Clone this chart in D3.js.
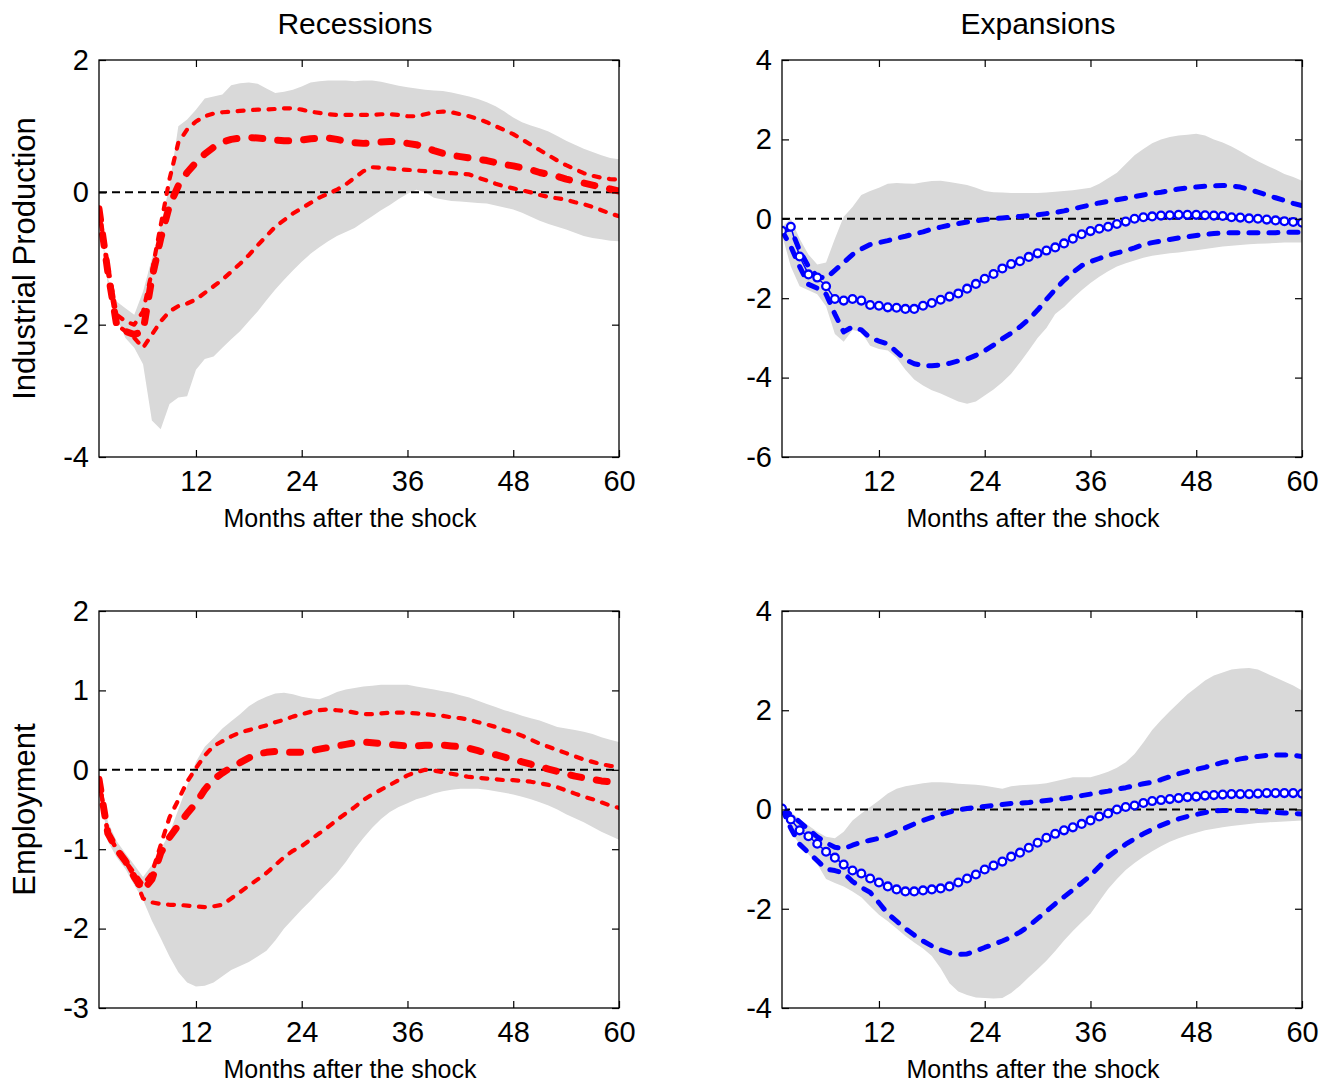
<!DOCTYPE html>
<html>
<head>
<meta charset="utf-8">
<script src="https://cdn.jsdelivr.net/npm/d3@7"></script>
<style>
  html, body { margin: 0; padding: 0; background: #fff; }
  svg text { font-family: "Liberation Sans", Arial, Helvetica, sans-serif; fill: #000; }
</style>
</head>
<body>
<svg id="chart" width="1336" height="1084"></svg>
<script>
// ---------------- DATA ----------------
const months = [1,2,3,4,5,6,7,8,9,10,11,12,13,14,15,16,17,18,19,20,21,22,23,24,25,26,27,28,29,30,
  31,32,33,34,35,36,37,38,39,40,41,42,43,44,45,46,47,48,49,50,51,52,53,54,55,56,57,58,59,60];
const xTicks = [12, 24, 36, 48, 60];
const colTitles = ["Recessions", "Expansions"];
const rowTitles = ["Industrial Production", "Employment"];
const xLabel = "Months after the shock";

const ipRecTicks = [-4, -2, 0, 2];
const ipExpTicks = [-6, -4, -2, 0, 2, 4];
const empRecTicks = [-3, -2, -1, 0, 1, 2];
const empExpTicks = [-4, -2, 0, 2, 4];

// Recessions - Industrial Production
const ipRecMed = [-0.25,-1.2,-2.0,-2.1,-2.15,-2.1,-1.3,-0.7,-0.2,0.1,0.3,0.45,0.58,0.68,0.76,0.8,0.82,0.83,0.82,0.81,
  0.79,0.78,0.78,0.79,0.81,0.82,0.82,0.8,0.77,0.75,0.74,0.75,0.76,0.77,0.76,0.74,0.72,0.68,0.63,0.59,
  0.56,0.54,0.52,0.5,0.48,0.45,0.42,0.4,0.37,0.34,0.3,0.27,0.24,0.2,0.17,0.14,0.11,0.08,0.05,0.02];
const ipRecHi = [-0.25,-1.1,-1.85,-1.95,-2.0,-1.8,-1.2,-0.5,0.2,0.75,0.95,1.07,1.15,1.19,1.21,1.22,1.23,1.24,1.25,1.25,
  1.26,1.27,1.27,1.25,1.22,1.2,1.18,1.17,1.17,1.17,1.17,1.17,1.18,1.18,1.17,1.15,1.15,1.18,1.21,1.22,
  1.21,1.18,1.15,1.11,1.06,1.0,0.94,0.88,0.8,0.72,0.64,0.56,0.48,0.41,0.35,0.29,0.25,0.22,0.2,0.19];
const ipRecLo = [-0.25,-1.2,-2.0,-2.1,-2.2,-2.35,-2.15,-1.95,-1.8,-1.72,-1.68,-1.62,-1.52,-1.42,-1.32,-1.2,-1.08,-0.95,-0.8,-0.66,
  -0.52,-0.42,-0.32,-0.24,-0.16,-0.08,-0.02,0.04,0.12,0.22,0.32,0.38,0.37,0.36,0.35,0.34,0.33,0.32,0.31,0.3,
  0.29,0.28,0.27,0.22,0.18,0.13,0.09,0.06,0.03,0.0,-0.04,-0.07,-0.09,-0.11,-0.15,-0.18,-0.22,-0.27,-0.32,-0.36];
const ipRecBandHi = [-0.2,-1.3,-1.65,-1.75,-1.85,-1.5,-1.0,-0.5,0.1,1.0,1.1,1.25,1.42,1.45,1.48,1.62,1.65,1.66,1.64,1.57,
  1.5,1.52,1.55,1.6,1.66,1.68,1.69,1.69,1.69,1.68,1.69,1.69,1.67,1.64,1.61,1.59,1.57,1.55,1.54,1.53,
  1.51,1.48,1.45,1.41,1.36,1.3,1.22,1.13,1.06,1.01,0.97,0.92,0.85,0.78,0.72,0.66,0.61,0.56,0.52,0.5];
const ipRecBandLo = [-0.3,-1.4,-1.9,-2.2,-2.35,-2.6,-3.45,-3.58,-3.2,-3.1,-3.08,-2.68,-2.52,-2.48,-2.35,-2.22,-2.1,-1.95,-1.8,-1.63,
  -1.47,-1.32,-1.18,-1.05,-0.93,-0.83,-0.74,-0.66,-0.6,-0.54,-0.45,-0.36,-0.27,-0.19,-0.1,-0.02,0.04,0.0,-0.08,-0.11,
  -0.13,-0.14,-0.15,-0.16,-0.17,-0.2,-0.23,-0.26,-0.31,-0.37,-0.43,-0.48,-0.52,-0.56,-0.61,-0.66,-0.69,-0.71,-0.73,-0.74];

// Expansions - Industrial Production
const ipExpMed = [-0.3,-0.2,-0.95,-1.4,-1.48,-1.7,-2.02,-2.06,-2.02,-2.06,-2.17,-2.19,-2.23,-2.24,-2.27,-2.27,-2.19,-2.12,-2.04,-1.96,
  -1.88,-1.76,-1.64,-1.51,-1.39,-1.25,-1.14,-1.07,-0.96,-0.87,-0.8,-0.72,-0.62,-0.5,-0.39,-0.31,-0.25,-0.2,-0.13,-0.07,
  0.0,0.04,0.06,0.08,0.09,0.1,0.1,0.1,0.09,0.08,0.07,0.04,0.03,0.01,0.0,-0.02,-0.04,-0.06,-0.08,-0.1];
const ipExpHi = [-0.3,-0.25,-0.8,-1.2,-1.45,-1.5,-1.3,-1.1,-0.9,-0.76,-0.65,-0.6,-0.55,-0.49,-0.44,-0.38,-0.33,-0.26,-0.21,-0.16,
  -0.12,-0.08,-0.05,-0.02,0.0,0.02,0.04,0.06,0.08,0.1,0.13,0.16,0.2,0.25,0.3,0.35,0.4,0.44,0.48,0.52,
  0.56,0.6,0.64,0.67,0.71,0.75,0.78,0.8,0.82,0.83,0.84,0.83,0.8,0.74,0.67,0.6,0.53,0.46,0.39,0.33];
const ipExpLo = [-0.3,-0.7,-1.2,-1.65,-1.75,-1.9,-2.4,-2.85,-2.72,-2.8,-3.0,-3.08,-3.15,-3.35,-3.55,-3.65,-3.7,-3.7,-3.68,-3.64,
  -3.58,-3.53,-3.44,-3.32,-3.18,-3.02,-2.88,-2.72,-2.53,-2.3,-2.03,-1.78,-1.55,-1.35,-1.18,-1.08,-1.0,-0.92,-0.86,-0.8,
  -0.73,-0.65,-0.6,-0.56,-0.52,-0.48,-0.45,-0.42,-0.39,-0.37,-0.36,-0.35,-0.35,-0.35,-0.35,-0.35,-0.35,-0.34,-0.34,-0.34];
const ipExpBandHi = [-0.2,0.0,-0.5,-0.9,-1.15,-1.1,-0.5,0.05,0.3,0.6,0.7,0.78,0.88,0.9,0.89,0.88,0.92,0.95,0.96,0.93,
  0.89,0.85,0.78,0.7,0.67,0.66,0.65,0.65,0.65,0.65,0.66,0.68,0.7,0.72,0.75,0.78,0.88,1.02,1.16,1.38,
  1.6,1.76,1.9,2.0,2.06,2.1,2.12,2.14,2.1,2.0,1.92,1.82,1.7,1.57,1.45,1.34,1.24,1.13,1.05,0.96];
const ipExpBandLo = [-0.4,-1.2,-1.7,-1.8,-1.9,-2.2,-2.9,-3.1,-2.8,-2.85,-3.2,-3.28,-3.32,-3.5,-3.8,-4.05,-4.2,-4.32,-4.4,-4.5,
  -4.6,-4.66,-4.6,-4.45,-4.3,-4.12,-3.9,-3.62,-3.32,-3.0,-2.75,-2.4,-2.22,-2.0,-1.8,-1.62,-1.46,-1.32,-1.2,-1.12,
  -1.05,-0.98,-0.93,-0.9,-0.87,-0.85,-0.82,-0.79,-0.76,-0.73,-0.7,-0.68,-0.66,-0.64,-0.63,-0.62,-0.61,-0.6,-0.6,-0.6];

// Recessions - Employment
const empRecMed = [-0.12,-0.8,-1.0,-1.15,-1.35,-1.52,-1.38,-1.05,-0.85,-0.7,-0.55,-0.42,-0.25,-0.12,-0.04,0.03,0.09,0.15,0.2,0.22,
  0.23,0.22,0.22,0.22,0.24,0.26,0.28,0.3,0.32,0.34,0.35,0.34,0.33,0.32,0.31,0.3,0.3,0.31,0.31,0.31,
  0.3,0.29,0.27,0.24,0.21,0.19,0.16,0.13,0.1,0.07,0.04,0.01,-0.02,-0.05,-0.08,-0.1,-0.12,-0.14,-0.15,-0.16];
const empRecHi = [-0.12,-0.8,-1.0,-1.15,-1.3,-1.45,-1.3,-0.95,-0.6,-0.38,-0.15,0.02,0.18,0.3,0.36,0.42,0.47,0.5,0.53,0.56,
  0.6,0.63,0.67,0.7,0.73,0.75,0.76,0.75,0.74,0.72,0.7,0.7,0.71,0.72,0.72,0.72,0.71,0.7,0.69,0.68,
  0.66,0.65,0.63,0.6,0.57,0.54,0.5,0.47,0.43,0.38,0.33,0.29,0.25,0.21,0.17,0.13,0.1,0.07,0.05,0.04];
const empRecLo = [-0.12,-0.8,-1.0,-1.15,-1.35,-1.62,-1.67,-1.69,-1.7,-1.7,-1.71,-1.72,-1.73,-1.72,-1.7,-1.62,-1.54,-1.46,-1.38,-1.3,
  -1.2,-1.1,-1.02,-0.96,-0.88,-0.8,-0.72,-0.63,-0.55,-0.47,-0.38,-0.31,-0.25,-0.19,-0.13,-0.07,-0.03,0.0,-0.01,-0.03,
  -0.05,-0.07,-0.09,-0.1,-0.11,-0.12,-0.13,-0.13,-0.14,-0.15,-0.17,-0.19,-0.22,-0.26,-0.3,-0.34,-0.37,-0.41,-0.45,-0.48];
const empRecBandHi = [-0.08,-0.65,-0.9,-1.05,-1.2,-1.35,-1.2,-1.0,-0.8,-0.5,-0.2,0.1,0.29,0.4,0.52,0.61,0.7,0.8,0.87,0.92,
  0.96,0.97,0.95,0.92,0.9,0.89,0.93,0.98,1.01,1.03,1.05,1.06,1.07,1.07,1.07,1.07,1.05,1.03,1.01,0.99,
  0.97,0.94,0.91,0.87,0.83,0.79,0.75,0.72,0.68,0.65,0.62,0.58,0.54,0.52,0.5,0.48,0.45,0.41,0.38,0.35];
const empRecBandLo = [-0.15,-0.9,-1.1,-1.25,-1.45,-1.64,-1.9,-2.12,-2.35,-2.55,-2.68,-2.73,-2.72,-2.68,-2.6,-2.52,-2.47,-2.42,-2.35,-2.28,
  -2.15,-2.0,-1.88,-1.76,-1.65,-1.53,-1.42,-1.3,-1.16,-1.0,-0.86,-0.73,-0.62,-0.53,-0.47,-0.42,-0.37,-0.34,-0.3,-0.27,
  -0.25,-0.24,-0.24,-0.24,-0.25,-0.27,-0.29,-0.31,-0.34,-0.37,-0.41,-0.45,-0.5,-0.56,-0.61,-0.66,-0.72,-0.78,-0.83,-0.88];

// Expansions - Employment
const empExpMed = [0.02,-0.2,-0.42,-0.54,-0.69,-0.85,-0.97,-1.11,-1.23,-1.29,-1.39,-1.47,-1.55,-1.61,-1.65,-1.65,-1.63,-1.61,-1.59,-1.55,
  -1.47,-1.39,-1.31,-1.21,-1.13,-1.05,-0.95,-0.87,-0.77,-0.67,-0.57,-0.49,-0.42,-0.36,-0.29,-0.22,-0.14,-0.08,0.0,0.05,
  0.08,0.13,0.17,0.19,0.21,0.23,0.25,0.26,0.28,0.29,0.3,0.31,0.31,0.31,0.32,0.33,0.33,0.33,0.33,0.32];
const empExpHi = [0.02,-0.1,-0.25,-0.4,-0.55,-0.67,-0.76,-0.79,-0.72,-0.66,-0.62,-0.58,-0.52,-0.45,-0.37,-0.29,-0.22,-0.16,-0.1,-0.05,
  -0.01,0.02,0.04,0.06,0.08,0.1,0.12,0.13,0.14,0.16,0.18,0.2,0.22,0.25,0.28,0.31,0.34,0.37,0.41,0.44,
  0.48,0.52,0.55,0.6,0.66,0.72,0.77,0.81,0.85,0.9,0.95,0.98,1.02,1.05,1.07,1.09,1.1,1.1,1.09,1.07];
const empExpLo = [0.02,-0.38,-0.7,-0.87,-1.03,-1.2,-1.23,-1.28,-1.45,-1.57,-1.67,-1.88,-2.1,-2.25,-2.4,-2.53,-2.65,-2.75,-2.83,-2.89,
  -2.92,-2.91,-2.85,-2.78,-2.72,-2.65,-2.57,-2.47,-2.35,-2.2,-2.05,-1.9,-1.76,-1.62,-1.48,-1.33,-1.15,-0.95,-0.82,-0.7,
  -0.59,-0.49,-0.4,-0.32,-0.25,-0.19,-0.14,-0.1,-0.06,-0.03,-0.02,-0.02,-0.02,-0.03,-0.04,-0.05,-0.06,-0.07,-0.08,-0.09];
const empExpBandHi = [0.08,-0.05,-0.2,-0.32,-0.45,-0.55,-0.58,-0.45,-0.22,-0.08,0.05,0.18,0.32,0.42,0.47,0.5,0.53,0.55,0.55,0.54,
  0.52,0.51,0.5,0.48,0.45,0.42,0.47,0.49,0.5,0.51,0.53,0.57,0.61,0.65,0.65,0.65,0.7,0.76,0.84,0.95,
  1.12,1.35,1.6,1.8,1.98,2.15,2.32,2.46,2.6,2.7,2.76,2.82,2.84,2.85,2.82,2.74,2.66,2.58,2.5,2.4];
const empExpBandLo = [-0.02,-0.45,-0.7,-0.9,-1.1,-1.4,-1.48,-1.55,-1.65,-1.77,-1.95,-2.12,-2.25,-2.4,-2.55,-2.68,-2.8,-2.95,-3.2,-3.5,
  -3.67,-3.74,-3.79,-3.8,-3.81,-3.8,-3.7,-3.55,-3.38,-3.22,-3.05,-2.85,-2.64,-2.45,-2.27,-2.1,-1.85,-1.6,-1.4,-1.22,
  -1.08,-0.95,-0.84,-0.74,-0.65,-0.58,-0.52,-0.47,-0.42,-0.39,-0.36,-0.33,-0.31,-0.29,-0.27,-0.26,-0.25,-0.24,-0.23,-0.22];

// ---------------- DRAW ----------------
const svg = d3.select("#chart");
const W = 520, H = 397;
const panels = [
  {x0: 99,  y0: 60,  dom: [-4, 2], ticks: ipRecTicks,  kind: "rec", med: ipRecMed, hi: ipRecHi, lo: ipRecLo, bHi: ipRecBandHi, bLo: ipRecBandLo},
  {x0: 782, y0: 60,  dom: [-6, 4], ticks: ipExpTicks,  kind: "exp", med: ipExpMed, hi: ipExpHi, lo: ipExpLo, bHi: ipExpBandHi, bLo: ipExpBandLo},
  {x0: 99,  y0: 611, dom: [-3, 2], ticks: empRecTicks, kind: "rec", med: empRecMed, hi: empRecHi, lo: empRecLo, bHi: empRecBandHi, bLo: empRecBandLo},
  {x0: 782, y0: 611, dom: [-4, 4], ticks: empExpTicks, kind: "exp", med: empExpMed, hi: empExpHi, lo: empExpLo, bHi: empExpBandHi, bLo: empExpBandLo}
];

const FONT_TICK = 29;
const FONT_XLAB = 25;
const FONT_TITLE = 30;
const FONT_YLAB = 31;
const fmt = d => String(d);   // plain hyphen-minus like the original

panels.forEach((p, i) => {
  const g = svg.append("g").attr("transform", `translate(${p.x0},${p.y0})`);
  const x = d3.scaleLinear().domain([1, 60]).range([0, W]);
  const y = d3.scaleLinear().domain(p.dom).range([H, 0]);

  const clipId = "clip" + i;
  g.append("clipPath").attr("id", clipId).append("rect").attr("width", W).attr("height", H);
  const plot = g.append("g").attr("clip-path", `url(#${clipId})`);

  // band
  const area = d3.area().x((d, k) => x(months[k])).y0((d, k) => y(p.bLo[k])).y1((d, k) => y(p.bHi[k]));
  plot.append("path").datum(months).attr("d", area).attr("fill", "#d9d9d9").attr("stroke", "none");

  // zero line
  plot.append("line").attr("x1", 0).attr("x2", W).attr("y1", y(0)).attr("y2", y(0))
    .attr("stroke", "#000").attr("stroke-width", 2).attr("stroke-dasharray", "8,5");

  const line = d3.line().x((d, k) => x(months[k])).y(d => y(d));
  const color = p.kind === "rec" ? "#ff0000" : "#0000ff";

  if (p.kind === "rec") {
    [p.hi, p.lo].forEach(s => {
      plot.append("path").datum(s).attr("d", line).attr("fill", "none")
        .attr("stroke", color).attr("stroke-width", 4.2).attr("stroke-linecap", "round")
        .attr("stroke-linejoin", "round").attr("stroke-dasharray", "6,9.5");
    });
    plot.append("path").datum(p.med).attr("d", line).attr("fill", "none")
      .attr("stroke", color).attr("stroke-width", 7).attr("stroke-linecap", "round")
      .attr("stroke-linejoin", "round").attr("stroke-dasharray", "11,15");
  } else {
    [p.hi, p.lo].forEach(s => {
      plot.append("path").datum(s).attr("d", line).attr("fill", "none")
        .attr("stroke", color).attr("stroke-width", 5).attr("stroke-linecap", "round")
        .attr("stroke-linejoin", "round").attr("stroke-dasharray", "9,11");
    });
    plot.append("path").datum(p.med).attr("d", line).attr("fill", "none")
      .attr("stroke", color).attr("stroke-width", 1.5);
    plot.selectAll("circle.m").data(p.med).enter().append("circle")
      .attr("cx", (d, k) => x(months[k])).attr("cy", d => y(d)).attr("r", 3.9)
      .attr("fill", "#fff").attr("stroke", color).attr("stroke-width", 2.3);
  }

  // axes
  const tickLen = 7;
  const xb = g.append("g").attr("transform", `translate(0,${H})`)
    .call(d3.axisBottom(x).tickValues(xTicks).tickSize(-tickLen).tickPadding(14).tickFormat(fmt));
  const xt = g.append("g").call(d3.axisTop(x).tickValues(xTicks).tickSize(-tickLen).tickFormat(""));
  const yl = g.append("g").call(d3.axisLeft(y).tickValues(p.ticks).tickSize(-tickLen).tickPadding(10).tickFormat(fmt));
  const yr = g.append("g").attr("transform", `translate(${W},0)`)
    .call(d3.axisRight(y).tickValues(p.ticks).tickSize(-tickLen).tickFormat(""));
  [xb, xt, yl, yr].forEach(a => {
    a.select(".domain").remove();
    a.selectAll("line").attr("stroke", "#000").attr("stroke-width", 1.2);
    a.selectAll("text").style("font-size", FONT_TICK + "px")
      .style("font-family", '"Liberation Sans", Arial, Helvetica, sans-serif').attr("fill", "#000");
  });
  xb.selectAll("text").attr("dy", "0.68em");
  g.append("rect").attr("width", W).attr("height", H).attr("fill", "none")
    .attr("stroke", "#000").attr("stroke-width", 1.3);

  // x label
  g.append("text").attr("x", W / 2 - 9).attr("y", H + 70).attr("text-anchor", "middle")
    .style("font-size", FONT_XLAB + "px").text(xLabel);

  // column titles
  if (i < 2) {
    g.append("text").attr("x", W / 2 - 4).attr("y", -26).attr("text-anchor", "middle")
      .style("font-size", FONT_TITLE + "px").text(colTitles[i]);
  }
  // row titles
  if (i % 2 === 0) {
    g.append("text").attr("transform", `translate(${-64},${H / 2}) rotate(-90)`)
      .attr("text-anchor", "middle").style("font-size", FONT_YLAB + "px").text(rowTitles[i / 2]);
  }
});
</script>
</body>
</html>
